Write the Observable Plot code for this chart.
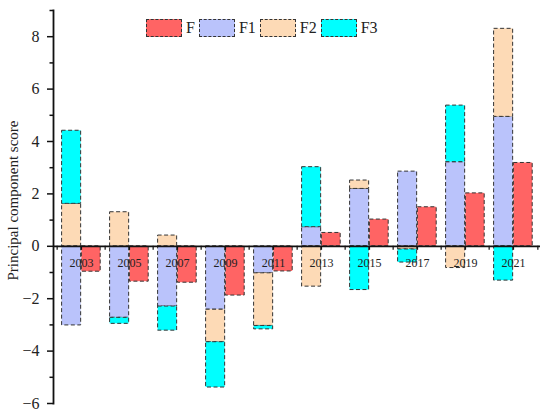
<!DOCTYPE html>
<html>
<head>
<meta charset="utf-8">
<script src="https://cdn.jsdelivr.net/npm/d3@7"></script>
<script src="https://cdn.jsdelivr.net/npm/@observablehq/plot@0.6"></script>
<style>
  html, body { margin: 0; padding: 0; background: #fff; }
  #wrap { position: relative; width: 550px; height: 416px; font-family: "Liberation Serif", "Times New Roman", serif; }
  #legend { position: absolute; left: 146px; top: 19px; display: flex; align-items: center; font-size: 16px; color: #222; }
  #legend .sw { width: 34px; height: 16px; border: 1px dashed #333; margin-right: 4px; }
  #legend .lb { margin-right: 4px; line-height: 18px; }
</style>
</head>
<body>
<div id="wrap"><div id="legend"></div></div>
<script>
const years = [2003, 2005, 2007, 2009, 2011, 2013, 2015, 2017, 2019, 2021];
const F  = [-0.97, -1.35, -1.39, -1.88, -0.96, 0.51, 1.02, 1.49, 2.02, 3.18];
const F1 = [-3.02, -2.73, -2.30, -2.42, -1.03, 0.73, 2.19, 2.85, 3.21, 4.94];
const F2 = [1.62, 1.30, 0.41, -1.24, -2.01, -1.54, 0.32, -0.12, -0.83, 3.36];
const F3 = [2.79, -0.23, -0.92, -1.73, -0.13, 2.29, -1.67, -0.50, 2.16, -1.31];
const seriesNames = ["F", "F1", "F2", "F3"];
const colors = ["#FF6464", "#BAC3FB", "#FDDAB6", "#00FFFF"];
const yTicks = [-6, -4, -2, 0, 2, 4, 6, 8];
const yMinor = [-5, -3, -1, 1, 3, 5, 7, 9];

const stackData = [];
[["F1", F1], ["F2", F2], ["F3", F3]].forEach(([s, arr]) => {
  arr.forEach((v, i) => stackData.push({year: years[i], series: s, value: v}));
});
const fData = years.map((y, i) => ({year: y, series: "F", value: F[i]}));

const W = 550, H = 416, mL = 53, mR = 10, mT = 10, mB = 13;
const yDom = [-6, 9];
const bw = (W - mL - mR) / years.length;
const zeroShift = -((0 - yDom[0]) / (yDom[1] - yDom[0])) * (H - mT - mB);
const font = "Liberation Serif";
const dash = "4,2.5";

const chart = Plot.plot({
  width: W, height: H,
  marginLeft: mL, marginRight: mR, marginTop: mT, marginBottom: mB,
  style: {fontFamily: font, background: "transparent"},
  x: {type: "band", domain: years, padding: 0, axis: null},
  y: {domain: yDom, axis: null},
  color: {domain: seriesNames, range: colors},
  marks: [
    Plot.barY(stackData, {x: "year", y: "value", fill: "series", z: "series",
      stroke: "#333", strokeWidth: 1, strokeDasharray: dash,
      insetLeft: 4.6, insetRight: bw / 2}),
    Plot.barY(fData, {x: "year", y: "value", fill: "series",
      stroke: "#333", strokeWidth: 1, strokeDasharray: dash,
      insetLeft: bw / 2, insetRight: 4.8}),
    Plot.text(years, {x: d => d, y: 0, dy: 17, text: d => String(d), fontSize: 12, fill: "#222", fontFamily: font}),
    Plot.axisX({ticks: years, tickSize: 4, tickFormat: () => "", label: null, dy: zeroShift, strokeWidth: 1.2, stroke: "#111"}),
    Plot.axisX({ticks: years, tickSize: 4, tickFormat: () => "", label: null, dx: -bw / 2, dy: zeroShift, strokeWidth: 1.2, stroke: "#111"}),
    Plot.axisX({ticks: [years[years.length - 1]], tickSize: 4, tickFormat: () => "", label: null, dx: bw / 2, dy: zeroShift, strokeWidth: 1.2, stroke: "#111"}),
    Plot.ruleY([0], {stroke: "#111", strokeWidth: 1.8}),
    Plot.frame({anchor: "left", stroke: "#111", strokeWidth: 1.8}),
    Plot.axisY({ticks: yTicks, tickSize: 6, tickPadding: 8, fontSize: 16, label: null, stroke: "#111", strokeWidth: 1.5, fill: "#222"}),
    Plot.axisY({ticks: yMinor, tickSize: 3.5, tickFormat: () => "", label: null, stroke: "#111", strokeWidth: 1.5}),
    Plot.text(["Principal component score"], {frameAnchor: "left", text: d => d, textAnchor: "middle", rotate: -90, dx: -40, dy: -6.5, fontSize: 15, fill: "#222", fontFamily: font})
  ]
});
document.getElementById("wrap").prepend(chart);

const legend = document.getElementById("legend");
seriesNames.forEach((s, i) => {
  const sw = document.createElement("div");
  sw.className = "sw";
  sw.style.background = colors[i];
  const lb = document.createElement("span");
  lb.className = "lb";
  lb.textContent = s;
  legend.append(sw, lb);
});
</script>
</body>
</html>
